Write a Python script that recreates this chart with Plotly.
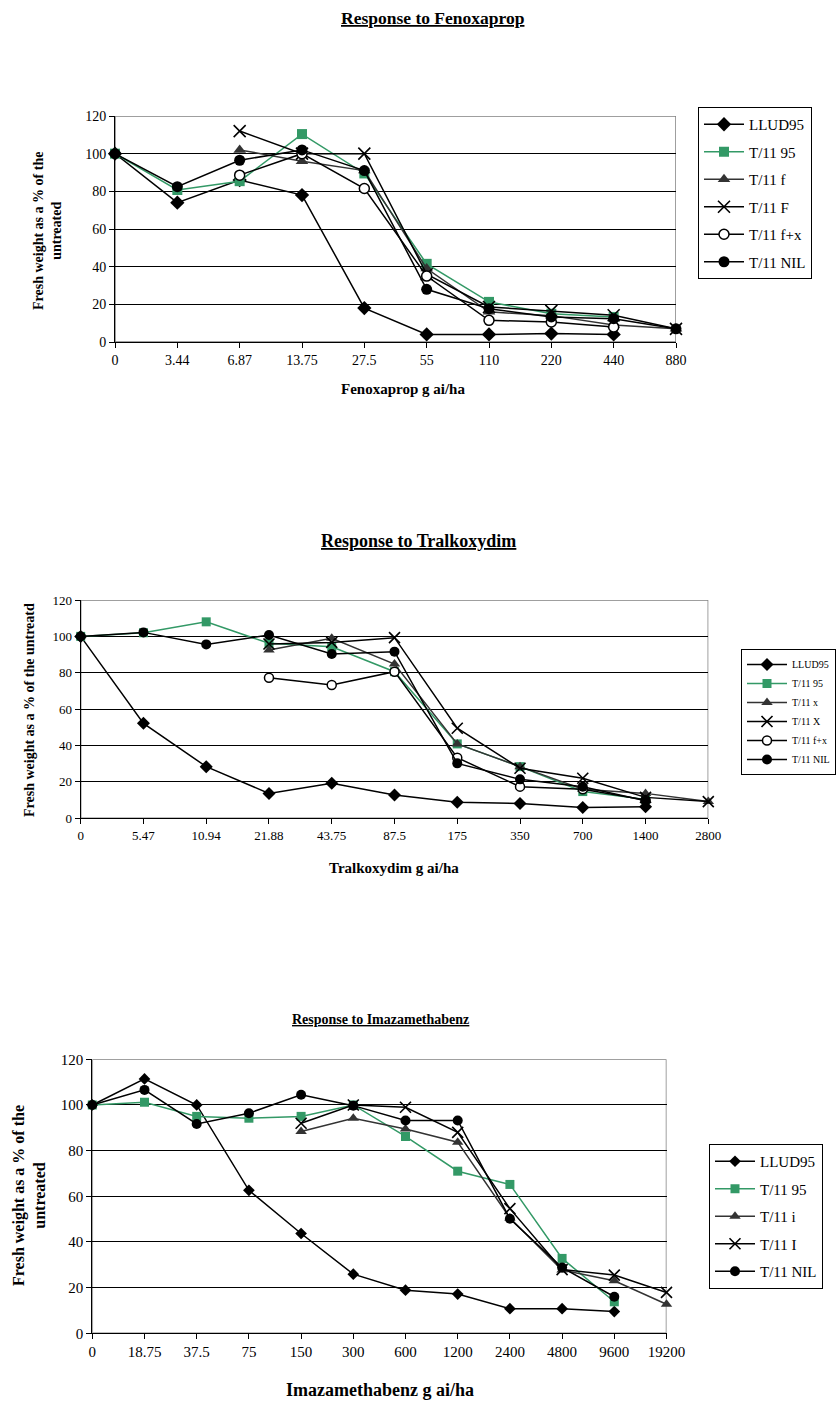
import plotly.graph_objects as go

W, H = 837, 1402
FONT = "Liberation Serif, Times New Roman, serif"

# ---------------- data ----------------
fen_doses = ["0", "3.44", "6.87", "13.75", "27.5", "55", "110", "220", "440", "880"]
fen_llud95 = [100, 74, 86, 78, 18, 4, 4, 4.5, 4, None]
fen_t11_95 = [100, 80.7, 85.4, 110.4, 89.5, 41.5, 21.3, 15, 13.3, None]
fen_t11_f = [None, None, 102, 96, 91, 39, 16, 14, 9, 7]
fen_t11_F = [None, None, 112, 100, 100, 36, 18.6, 16.5, 14.2, 7]
fen_t11_fx = [None, None, 88.6, 100, 81.5, 35, 11.5, 10.6, 8, None]
fen_t11_nil = [100, 82.5, 96.5, 102, 91, 28, 17.7, 13.3, 12.4, 7]

tra_doses = ["0", "5.47", "10.94", "21.88", "43.75", "87.5", "175", "350", "700", "1400", "2800"]
tra_llud95 = [100, 52.2, 28.4, 13.7, 19.2, 12.8, 8.8, 8.2, 6, 6.4, None]
tra_t11_95 = [100, 102, 108, 96.2, 94.3, 80.6, 40.9, 28.4, 14.7, 10.4, None]
tra_t11_x = [None, None, None, 92.5, 99, 84.8, 40.9, 28.4, 16, 13.7, 9.2]
tra_t11_X = [None, None, None, 95.8, 96.7, 99.3, 49.5, 27.5, 22, 11.5, 9.2]
tra_t11_fx = [None, None, None, 77.3, 73.3, 80.6, 33.3, 17.4, 16, 10, None]
tra_t11_nil = [100, 102.2, 95.6, 100.8, 90.3, 91.6, 30.2, 21.4, 17.4, 9.7, None]

ima_doses = ["0", "18.75", "37.5", "75", "150", "300", "600", "1200", "2400", "4800", "9600", "19200"]
ima_llud95 = [100, 111.4, 100, 62.6, 43.7, 25.9, 18.9, 17.2, 10.8, 10.8, 9.5, None]
ima_t11_95 = [100, 101.2, 95, 94.2, 95, 100, 86.2, 71, 65.2, 32.8, 13.8, None]
ima_t11_i = [None, None, None, None, 88.4, 94.2, 89.5, 83.7, 50.5, 27.7, 23, 12.7]
ima_t11_I = [None, None, None, None, 92, 100, 99, 88, 54.6, 27.9, 25.5, 17.9]
ima_t11_nil = [100, 106.6, 91.7, 96.4, 104.5, 99.7, 93.2, 93.2, 50.2, 28.8, 16, None]

GREEN = "#339966"
DGRAY = "#333333"


def style(kind, s):
    if kind == "diamond":
        return dict(line=dict(color="black", width=1.5),
                    marker=dict(symbol="diamond", size=s, color="black"))
    if kind == "square":
        return dict(line=dict(color=GREEN, width=1.5),
                    marker=dict(symbol="square", size=s - 1, color=GREEN))
    if kind == "triangle":
        return dict(line=dict(color=DGRAY, width=1.5),
                    marker=dict(symbol="triangle-up", size=s, color=DGRAY))
    if kind == "x":
        return dict(line=dict(color="black", width=1.5),
                    marker=dict(symbol="x-thin-open", size=s + 1, color="black",
                                line=dict(color="black", width=1.6)))
    if kind == "ocircle":
        return dict(line=dict(color="black", width=1.5),
                    marker=dict(symbol="circle", size=s - 1, color="white",
                                line=dict(color="black", width=1.5)))
    if kind == "circle":
        return dict(line=dict(color="black", width=1.5),
                    marker=dict(symbol="circle", size=s, color="black"))


fig = go.Figure()


def px_x(p):
    return p / W


def px_y(p):
    return 1 - p / H


charts = [
    dict(ax="", legend="legend", doses=fen_doses, s=11, tick=14,
         series=[("LLUD95", fen_llud95, "diamond"), ("T/11 95", fen_t11_95, "square"),
                 ("T/11 f", fen_t11_f, "triangle"), ("T/11 F", fen_t11_F, "x"),
                 ("T/11 f+x", fen_t11_fx, "ocircle"), ("T/11 NIL", fen_t11_nil, "circle")],
         x0=115, x1=676, y0=116, y1=342),
    dict(ax="2", legend="legend2", doses=tra_doses, s=10, tick=13,
         series=[("LLUD95", tra_llud95, "diamond"), ("T/11 95", tra_t11_95, "square"),
                 ("T/11 x", tra_t11_x, "triangle"), ("T/11 X", tra_t11_X, "x"),
                 ("T/11 f+x", tra_t11_fx, "ocircle"), ("T/11 NIL", tra_t11_nil, "circle")],
         x0=80.7, x1=708.3, y0=600, y1=818.3),
    dict(ax="3", legend="legend3", doses=ima_doses, s=10, tick=15,
         series=[("LLUD95", ima_llud95, "diamond"), ("T/11 95", ima_t11_95, "square"),
                 ("T/11 i", ima_t11_i, "triangle"), ("T/11 I", ima_t11_I, "x"),
                 ("T/11 NIL", ima_t11_nil, "circle")],
         x0=92.3, x1=666.5, y0=1059.3, y1=1333.3),
]

for ci, c in enumerate(charts):
    n = len(c["doses"])
    xs = list(range(n))
    for si, (name, vals, kind) in enumerate(c["series"]):
        st = style(kind, c["s"] if kind != "diamond" or c["ax"] != "3" else 9)
        fig.add_trace(go.Scatter(
            x=xs, y=vals, name=name, mode="lines+markers",
            xaxis="x" + c["ax"], yaxis="y" + c["ax"], legend=c["legend"],
            legendgroup=f"g{ci}_{si}",
            cliponaxis=False, **st))
    xa = dict(domain=[px_x(c["x0"]), px_x(c["x1"])], range=[0, n - 1],
              tickmode="array", tickvals=xs, ticktext=c["doses"],
              showgrid=False, zeroline=False, showline=True, linecolor="black",
              linewidth=1, ticks="outside", ticklen=5, tickcolor="black",
              tickfont=dict(family=FONT, size=c["tick"], color="black"),
              anchor="y" + c["ax"], fixedrange=True, automargin=False)
    ya = dict(domain=[px_y(c["y1"]), px_y(c["y0"])], range=[0, 120],
              tickmode="linear", tick0=0, dtick=20,
              showgrid=True, gridcolor="black", gridwidth=1,
              zeroline=False, showline=True, linecolor="black", linewidth=1,
              ticks="outside", ticklen=5, tickcolor="black",
              tickfont=dict(family=FONT, size=c["tick"], color="black"),
              anchor="x" + c["ax"], fixedrange=True, automargin=False)
    fig.update_layout(**{"xaxis" + c["ax"]: xa, "yaxis" + c["ax"]: ya})
    fig.add_shape(type="rect", xref="x" + c["ax"], yref="y" + c["ax"],
                  x0=0, x1=n - 1, y0=0, y1=120,
                  line=dict(color="#808080", width=1.5), layer="below")

# legends (anchored at their right edges so they never overflow the page)
fig.update_layout(
    legend=dict(x=px_x(812), y=px_y(107), xanchor="right", yanchor="top",
                bordercolor="black", borderwidth=1, bgcolor="white",
                font=dict(family=FONT, size=15, color="black"),
                itemwidth=40, tracegroupgap=5),
    legend2=dict(x=px_x(836), y=px_y(649), xanchor="right", yanchor="top",
                 bordercolor="black", borderwidth=1, bgcolor="white",
                 font=dict(family=FONT, size=10, color="black"),
                 itemwidth=40, tracegroupgap=0),
    legend3=dict(x=px_x(823), y=px_y(1144), xanchor="right", yanchor="top",
                 bordercolor="black", borderwidth=1, bgcolor="white",
                 font=dict(family=FONT, size=15, color="black"),
                 itemwidth=40, tracegroupgap=5),
)

ann = []


def text(x, y, t, size, angle=0):
    ann.append(dict(x=px_x(x), y=px_y(y), xref="paper", yref="paper", text=t,
                    showarrow=False, textangle=angle, xanchor="center", yanchor="middle",
                    font=dict(family=FONT, size=size, color="black")))


text(433, 18, "<b><u>Response to Fenoxaprop</u></b>", 17.5)
text(47, 231, "<b>Fresh weight as a % of the<br>untreated</b>", 14, -90)
text(403, 389, "<b>Fenoxaprop g ai/ha</b>", 15)

text(418, 541, "<b><u>Response to Tralkoxydim</u></b>", 18)
text(29, 710, "<b>Fresh weight as a % of the untreatd</b>", 14, -90)
text(394, 868, "<b>Tralkoxydim g ai/ha</b>", 15)

text(380, 1019, "<b><u>Response to Imazamethabenz</u></b>", 14)
text(29, 1196, "<b>Fresh weight as a % of the<br>untreated</b>", 16, -90)
text(380, 1390, "<b>Imazamethabenz g ai/ha</b>", 18)

fig.update_layout(
    annotations=ann, width=W, height=H,
    margin=dict(l=0, r=0, t=0, b=0, autoexpand=False),
    paper_bgcolor="white", plot_bgcolor="white",
    showlegend=True,
)

fig.write_html("out.html")
